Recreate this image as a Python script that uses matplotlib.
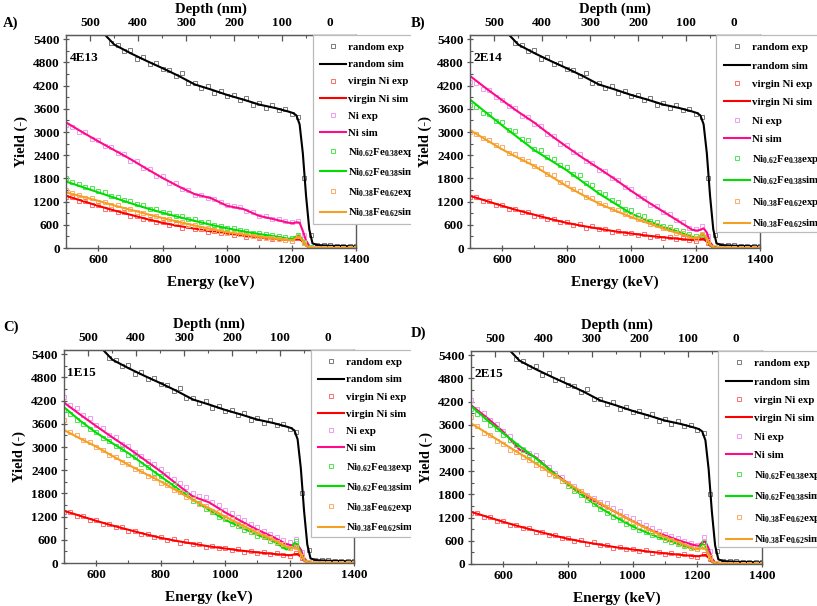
import matplotlib.pyplot as plt
from matplotlib.patches import Rectangle
from matplotlib.ticker import MultipleLocator

plt.rcParams['font.family'] = ['Liberation Serif', 'DejaVu Serif']
plt.rcParams['font.weight'] = 'bold'
plt.rcParams['axes.labelweight'] = 'bold'
plt.rcParams['mathtext.fontset'] = 'custom'
plt.rcParams['mathtext.rm'] = 'Liberation Serif:bold'
plt.rcParams['mathtext.it'] = 'Liberation Serif:bold'
plt.rcParams['mathtext.bf'] = 'Liberation Serif:bold'

# energy grids (keV)
E_SIM = [500, 550, 600, 650, 700, 750, 800, 850, 900, 950, 1000, 1050, 1100, 1150,
         1190, 1205, 1215, 1225, 1235, 1245, 1255, 1265, 1280, 1320, 1400]
E_EXP = [500, 520, 540, 560, 580, 600, 620, 640, 660, 680, 700, 720, 740, 760, 780,
         800, 820, 840, 860, 880, 900, 920, 940, 960, 980, 1000, 1020, 1040, 1060,
         1080, 1100, 1120, 1140, 1160, 1180, 1200, 1220, 1240, 1260, 1280, 1300,
         1320, 1340, 1360, 1380, 1400]

# random and virgin spectra (same in every panel)
random_sim = [6500, 6050, 5700, 5260, 5040, 4840, 4650, 4450, 4230, 4100, 3960, 3840, 3710, 3620,
              3530, 3490, 3430, 3200, 2450, 1350, 480, 120, 75, 60, 40]
random_exp = [6480, 6350, 6100, 5980, 5790, 5660, 5580, 5310, 5260, 5090, 5120, 4900, 4930, 4760,
              4790, 4620, 4600, 4450, 4520, 4280, 4260, 4130, 4200, 4020, 4070, 3920, 3950, 3820,
              3870, 3700, 3760, 3620, 3690, 3560, 3600, 3470, 3380, 1820, 330, 90, 80, 65, 60, 58,
              50, 45]
virgin_sim = [1350, 1220, 1090, 970, 860, 750, 650, 570, 500, 430, 375, 320, 275, 235,
              205, 200, 225, 235, 160, 60, 15, 3, 0, 0, 0]
virgin_exp = [1320, 1310, 1210, 1220, 1110, 1100, 1010, 1020, 920, 930, 840, 830, 750, 760, 660,
              670, 600, 610, 530, 560, 480, 490, 420, 440, 380, 390, 340, 350, 290, 310, 260, 280,
              230, 250, 200, 190, 250, 130, 15, 5, 3, 2, 2, 1, 1, 1]

# A) 4E13
ni_sim_A = [3250, 3000, 2760, 2530, 2300, 2050, 1810, 1590, 1390, 1290, 1090, 1010, 830, 735,
            655, 640, 665, 655, 440, 190, 55, 10, 0, 0, 0]
ni_exp_A = [3180, 3120, 3000, 2990, 2820, 2800, 2640, 2620, 2450, 2430, 2260, 2250, 2060, 2050,
            1870, 1850, 1680, 1690, 1520, 1510, 1360, 1370, 1290, 1280, 1190, 1120, 1080, 1060,
            960, 940, 840, 820, 760, 740, 690, 660, 700, 330, 35, 5, 3, 2, 2, 1, 1, 1]
fe38_sim_A = [1720, 1580, 1440, 1300, 1160, 1030, 910, 800, 700, 600, 510, 430, 360, 300,
              240, 245, 300, 315, 200, 70, 15, 3, 0, 0, 0]
fe38_exp_A = [1800, 1700, 1660, 1580, 1550, 1470, 1440, 1350, 1320, 1240, 1220, 1130, 1110, 1020,
              1000, 930, 900, 840, 820, 760, 750, 680, 660, 600, 580, 520, 510, 460, 440, 400,
              390, 350, 330, 300, 280, 260, 330, 150, 15, 5, 3, 2, 2, 1, 1, 1]
fe62_sim_A = [1440, 1330, 1220, 1100, 990, 880, 775, 675, 580, 490, 410, 350, 290, 240,
              205, 210, 270, 290, 180, 65, 15, 3, 0, 0, 0]
fe62_exp_A = [1500, 1410, 1380, 1300, 1290, 1200, 1190, 1100, 1100, 1010, 1000, 920, 910, 840,
              830, 750, 740, 680, 660, 600, 590, 530, 520, 460, 450, 400, 390, 350, 340, 300,
              290, 260, 250, 220, 210, 190, 320, 140, 12, 4, 3, 2, 2, 1, 1, 1]

# B) 2E14
ni_sim_B = [4450, 4130, 3820, 3520, 3240, 2920, 2620, 2330, 2060, 1780, 1480, 1200, 940, 680,
            470, 450, 470, 510, 400, 150, 40, 8, 0, 0, 0]
ni_exp_B = [4300, 4270, 4120, 4090, 3900, 3820, 3680, 3620, 3420, 3380, 3200, 3150, 2940, 2900,
            2700, 2660, 2480, 2430, 2240, 2210, 2020, 2000, 1800, 1760, 1580, 1520, 1350, 1300,
            1120, 1080, 920, 880, 720, 680, 520, 480, 560, 300, 30, 5, 3, 2, 2, 1, 1, 1]
fe38_sim_B = [3840, 3500, 3170, 2850, 2530, 2270, 2010, 1710, 1410, 1150, 890, 710, 545, 410,
              290, 270, 300, 330, 230, 80, 20, 3, 0, 0, 0]
fe38_exp_B = [3700, 3660, 3500, 3470, 3280, 3250, 3060, 3020, 2820, 2790, 2570, 2540, 2350, 2300,
              2140, 2100, 1920, 1880, 1680, 1640, 1440, 1400, 1230, 1200, 1020, 990, 860, 820,
              710, 670, 580, 550, 460, 440, 350, 300, 330, 170, 15, 5, 3, 2, 2, 1, 1, 1]
fe62_sim_B = [3050, 2800, 2550, 2330, 2120, 1860, 1600, 1370, 1150, 970, 800, 650, 500, 370,
              260, 250, 330, 360, 250, 90, 20, 3, 0, 0, 0]
fe62_exp_B = [3000, 2960, 2850, 2800, 2660, 2600, 2470, 2420, 2300, 2250, 2130, 2060, 1920, 1880,
              1720, 1680, 1520, 1480, 1330, 1300, 1160, 1120, 1010, 980, 880, 840, 750, 720,
              630, 590, 510, 480, 400, 380, 300, 270, 360, 180, 14, 4, 3, 2, 2, 1, 1, 1]

# C) 1E15
ni_sim_C = [4150, 3840, 3540, 3250, 2970, 2670, 2370, 2040, 1720, 1570, 1310, 1080, 860, 670,
            490, 460, 440, 470, 350, 130, 35, 5, 0, 0, 0]
ni_exp_C = [4300, 4080, 4000, 3820, 3740, 3560, 3500, 3320, 3260, 3080, 3020, 2860, 2780, 2640,
            2550, 2420, 2300, 2170, 2060, 1960, 1800, 1740, 1700, 1580, 1500, 1380, 1300, 1180,
            1100, 1000, 920, 840, 760, 680, 600, 540, 620, 280, 25, 5, 3, 2, 2, 1, 1, 1]
fe38_sim_C = [4030, 3680, 3370, 3100, 2840, 2540, 2240, 1940, 1640, 1370, 1120, 920, 730, 560,
              350, 380, 520, 480, 250, 80, 20, 3, 0, 0, 0]
fe38_exp_C = [3950, 3850, 3700, 3600, 3460, 3380, 3240, 3160, 3020, 2950, 2800, 2730, 2560, 2490,
              2320, 2250, 2080, 2010, 1840, 1780, 1600, 1540, 1400, 1330, 1200, 1130, 1020, 970,
              860, 810, 710, 670, 580, 530, 430, 380, 560, 190, 15, 5, 3, 2, 2, 1, 1, 1]
fe62_sim_C = [3440, 3220, 3010, 2770, 2540, 2320, 2110, 1870, 1630, 1420, 1200, 990, 780, 600,
              420, 380, 400, 380, 240, 80, 20, 3, 0, 0, 0]
fe62_exp_C = [3700, 3400, 3320, 3180, 3120, 3000, 2920, 2800, 2740, 2600, 2560, 2420, 2380, 2240,
              2200, 2080, 2030, 1900, 1840, 1700, 1660, 1520, 1480, 1350, 1310, 1180, 1130, 1010,
              960, 850, 800, 700, 650, 550, 480, 400, 420, 180, 14, 4, 3, 2, 2, 1, 1, 1]

# D) 2E15
ni_sim_D = [4110, 3780, 3420, 2960, 2760, 2400, 2090, 1760, 1550, 1330, 1110, 900, 740, 590,
            490, 470, 560, 580, 400, 150, 40, 5, 0, 0, 0]
ni_exp_D = [4250, 4000, 3900, 3720, 3620, 3440, 3300, 3080, 2980, 2860, 2820, 2640, 2520, 2360,
            2260, 2100, 2010, 1880, 1790, 1700, 1600, 1580, 1440, 1360, 1250, 1180, 1080, 1010,
            920, 860, 780, 720, 660, 600, 550, 500, 700, 330, 30, 5, 3, 2, 2, 1, 1, 1]
fe38_sim_D = [4090, 3720, 3380, 3050, 2740, 2390, 2050, 1740, 1450, 1200, 970, 790, 630, 490,
              380, 420, 520, 470, 250, 80, 20, 3, 0, 0, 0]
fe38_exp_D = [4000, 3880, 3760, 3600, 3480, 3340, 3220, 3080, 2960, 2820, 2700, 2560, 2430, 2290,
              2160, 2020, 1900, 1780, 1650, 1540, 1420, 1320, 1220, 1140, 1040, 960, 880, 820,
              750, 690, 620, 570, 510, 460, 420, 400, 560, 190, 15, 5, 3, 2, 2, 1, 1, 1]
fe62_sim_D = [3640, 3380, 3120, 2860, 2600, 2340, 2090, 1830, 1570, 1330, 1100, 890, 700, 540,
              400, 380, 420, 400, 250, 80, 20, 3, 0, 0, 0]
fe62_exp_D = [3800, 3560, 3400, 3340, 3180, 3100, 2960, 2900, 2760, 2700, 2560, 2480, 2340, 2280,
              2140, 2080, 1940, 1880, 1740, 1660, 1540, 1470, 1350, 1280, 1160, 1080, 990, 920,
              830, 770, 680, 630, 550, 500, 420, 380, 440, 180, 14, 4, 3, 2, 2, 1, 1, 1]

DEPTH_TICKS = [0, 100, 200, 300, 400, 500]
Y_TICKS = [0, 600, 1200, 1800, 2400, 3000, 3600, 4200, 4800, 5400]
X_TICKS = [600, 800, 1000, 1200, 1400]

LABELS = ['random exp', 'random sim', 'virgin Ni exp', 'virgin Ni sim', 'Ni exp', 'Ni sim',
          r'Ni$_{0.62}$Fe$_{0.38}$exp', r'Ni$_{0.62}$Fe$_{0.38}$sim',
          r'Ni$_{0.38}$Fe$_{0.62}$exp', r'Ni$_{0.38}$Fe$_{0.62}$sim']
EXP_COLORS = ['#7a7a7a', '#ff6e6e', '#f09cf0', '#4ee84e', '#ffaa66']
SIM_COLORS = ['black', '#ff0000', '#ff0a8a', '#00dd00', '#f5a020']


def e2d(e):
    return (1319 - e) / 1.487


def d2e(d):
    return 1319 - 1.487 * d


W, H = 817, 606
fig = plt.figure(figsize=(W / 100, H / 100), dpi=100)

# letter, dose, axes box in px (l, t, r, b), legend bottom, label spacing, letter y, curves, zorder
panels = [
    ('A)', '4E13', (66, 35, 356, 248), 0.111, 0.70, 23,
     [ni_sim_A, fe38_sim_A, fe62_sim_A], [ni_exp_A, fe38_exp_A, fe62_exp_A], 0),
    ('B)', '2E14', (470, 35, 760, 248), 0.075, 0.81, 23,
     [ni_sim_B, fe38_sim_B, fe62_sim_B], [ni_exp_B, fe38_exp_B, fe62_exp_B], 2),
    ('C)', '1E15', (64, 350, 354, 563), 0.122, 0.70, 327,
     [ni_sim_C, fe38_sim_C, fe62_sim_C], [ni_exp_C, fe38_exp_C, fe62_exp_C], 0),
    ('D)', '2E15', (471, 351, 762, 564), 0.081, 0.81, 333,
     [ni_sim_D, fe38_sim_D, fe62_sim_D], [ni_exp_D, fe38_exp_D, fe62_exp_D], 2),
]

# white cover so the left legends get cut at the column border
fig.add_artist(Rectangle((411 / W, 0), 1, 1, transform=fig.transFigure,
                         fc='white', ec='none', zorder=1))

for letter, dose, (l, t, r, b), leg_bot, lsp, ly, sims, exps, z in panels:
    ax = fig.add_axes([l / W, 1 - b / H, (r - l) / W, (b - t) / H])
    ax.set_zorder(z)
    sim_series = [random_sim, virgin_sim] + sims
    exp_series = [random_exp, virgin_exp] + exps
    handles = []
    for k in range(5):
        h1, = ax.plot(E_EXP, exp_series[k], 's', ms=3.4, mfc='none', mew=0.7,
                      color=EXP_COLORS[k], linestyle='none')
        h2, = ax.plot(E_SIM, sim_series[k], '-', lw=1.5, color=SIM_COLORS[k])
        handles += [h1, h2]

    ax.set_xlim(500, 1400)
    ax.set_ylim(0, 5510)
    ax.set_xticks(X_TICKS)
    ax.set_yticks(Y_TICKS)
    ax.xaxis.set_minor_locator(MultipleLocator(100))
    ax.yaxis.set_minor_locator(MultipleLocator(300))
    ax.tick_params(which='major', direction='inout', length=5, width=0.9,
                   color='#555555', labelsize=9.5, pad=2)
    ax.tick_params(which='minor', direction='in', length=2.5, width=0.8, color='#555555')
    for s in ax.spines.values():
        s.set_color('#5a5a5a')
        s.set_linewidth(1.0)
    ax.set_xlabel('Energy (keV)', fontsize=11, labelpad=7)
    ax.set_ylabel('Yield (-)', fontsize=10.5, labelpad=4)

    sec = ax.secondary_xaxis('top', functions=(e2d, d2e))
    sec.set_xticks(DEPTH_TICKS)
    sec.xaxis.set_minor_locator(MultipleLocator(50))
    sec.tick_params(which='major', direction='in', length=4, width=0.9,
                    color='#555555', labelsize=9.5, pad=4)
    sec.tick_params(which='minor', direction='in', length=2.5, width=0.8, color='#555555')
    sec.spines['top'].set_color('#5a5a5a')
    sec.set_xlabel('Depth (nm)', fontsize=10.5, labelpad=3)

    ax.text(0.012, 0.89, dose, transform=ax.transAxes, fontsize=9.5,
            ha='left', va='center')

    ax.add_patch(Rectangle((0.85, leg_bot), 0.5, 1 - leg_bot, transform=ax.transAxes,
                           clip_on=False, fc='white', ec='#bbbbbb', lw=0.9, zorder=4))
    leg = ax.legend(handles, LABELS, loc='upper left', bbox_to_anchor=(0.85, 1.0),
                    frameon=False, fontsize=7.8, handlelength=2.4, handletextpad=0.2,
                    labelspacing=lsp, borderaxespad=0, borderpad=0.7)
    leg.set_zorder(5)

    fig.text((3 if l < 400 else 411) / W, 1 - ly / H, letter, fontsize=10.5,
             ha='left', va='center', zorder=3)

fig.savefig('out.png', dpi=100)
